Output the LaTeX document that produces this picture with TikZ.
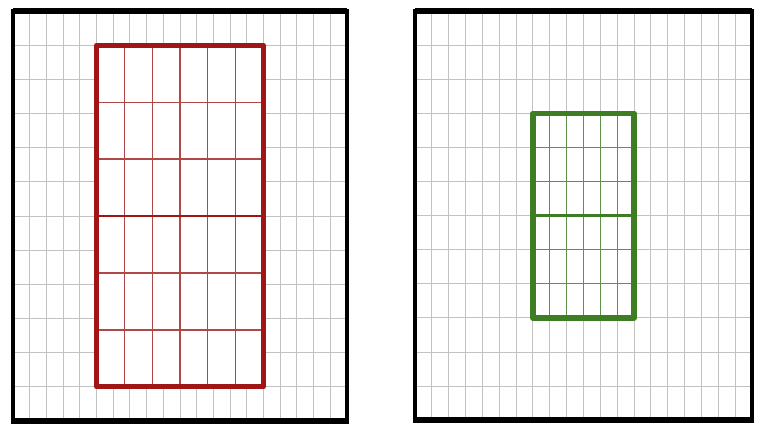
\documentclass[tikz,border=0pt]{standalone}
\usepackage{tikz}
\usepackage{xcolor}
\definecolor{ink}{HTML}{000000}
\definecolor{linegray}{HTML}{C2C2C2}
\definecolor{darkred}{HTML}{A01616}
\definecolor{lightred}{HTML}{B04848}
\definecolor{darkgreen}{HTML}{3F7D24}
\definecolor{lightgreen}{HTML}{5F9248}
\tikzset{
  gridline/.style={draw=linegray, line width=1pt},
  frameline/.style={draw=ink, line width=4pt},
  frameedge/.style={draw=ink, line width=6pt, shorten <=-2pt, shorten >=-2pt},
  redframe/.style={draw=darkred, line width=5pt, line join=round},
  redline/.style={draw=lightred, line width=1.2pt},
  redmid/.style={draw=darkred, line width=2.4pt},
  greenframe/.style={draw=darkgreen, line width=5.5pt, line join=round},
  greenline/.style={draw=lightgreen, line width=1.2pt},
  greenmid/.style={draw=darkgreen, line width=2.4pt}
}
\begin{document}
\begin{tikzpicture}[x=1pt,y=-1pt]
\useasboundingbox (0,0) rectangle (761,436);
\fill[white] (0,0) rectangle (761,436);
\begin{scope}[shift={(13,11)}, x=16.7pt, y=-34.17pt]
\foreach \i in {1,...,19} \draw[gridline] (\i,0) -- (\i,12);
\foreach \j in {1,...,11} \draw[gridline] (0,\j) -- (20,\j);
\fill[white] (5,1) rectangle (15,11);
\foreach \k in {1,...,5} \draw[redline] ({5+\k*10/6},1) -- ({5+\k*10/6},11);
\foreach \k in {1,2,4,5} \draw[redline] (5,{1+\k*10/6}) -- (15,{1+\k*10/6});
\draw[redmid] (5,6) -- (15,6);
\draw[redframe] (5,1) rectangle (15,11);
\draw[frameline] (0,0) rectangle (20,12);
\draw[frameedge] (0,0) -- (20,0) (0,12) -- (20,12);
\end{scope}
\begin{scope}[shift={(415,11)}, x=16.85pt, y=-34.1pt]
\foreach \i in {1,...,19} \draw[gridline] (\i,0) -- (\i,12);
\foreach \j in {1,...,11} \draw[gridline] (0,\j) -- (20,\j);
\fill[white] (7,3) rectangle (13,9);
\foreach \k in {8,...,12} \draw[greenline] (\k,3) -- (\k,9);
\foreach \k in {4,5,7,8} \draw[greenline] (7,\k) -- (13,\k);
\draw[greenmid] (7,6) -- (13,6);
\draw[greenframe] (7,3) rectangle (13,9);
\draw[frameline] (0,0) rectangle (20,12);
\draw[frameedge] (0,0) -- (20,0) (0,12) -- (20,12);
\end{scope}
\end{tikzpicture}
\end{document}
